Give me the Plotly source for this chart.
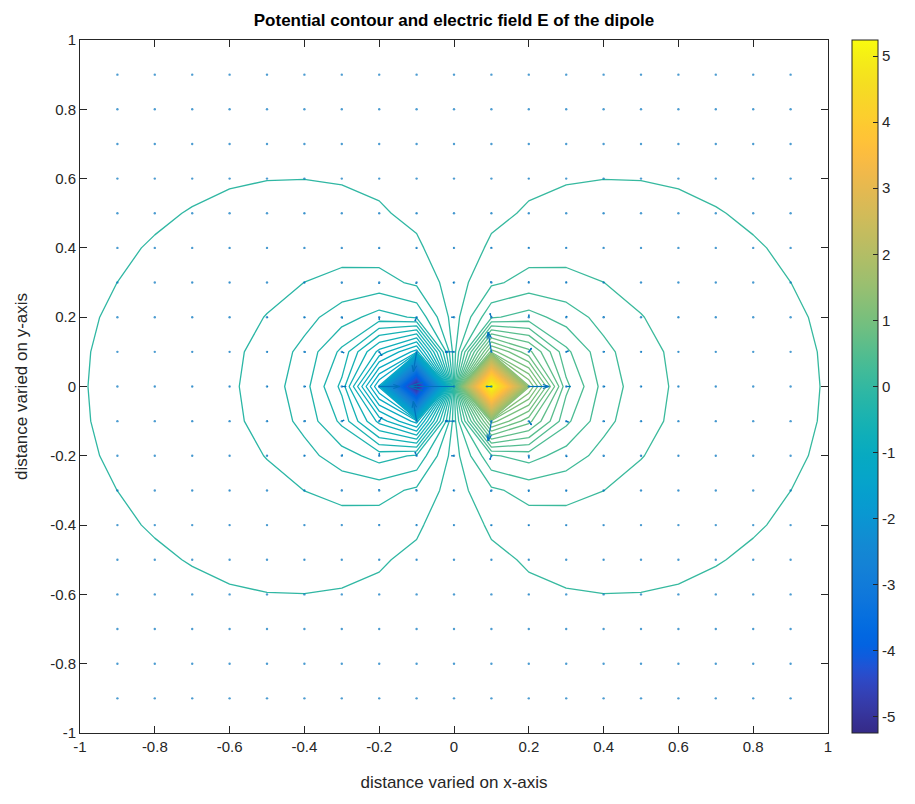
import numpy as np
import plotly.graph_objects as go
import plotly.figure_factory as ff

# ---------------- data ----------------
x_vals = [-1.0, -0.9, -0.8, -0.7, -0.6, -0.5, -0.4, -0.3, -0.2, -0.1, 0.0,
          0.1, 0.2, 0.3, 0.4, 0.5, 0.6, 0.7, 0.8, 0.9, 1.0]
y_vals = [-1.0, -0.9, -0.8, -0.7, -0.6, -0.5, -0.4, -0.3, -0.2, -0.1, 0.0,
          0.1, 0.2, 0.3, 0.4, 0.5, 0.6, 0.7, 0.8, 0.9, 1.0]
charge_x = [0.1, -0.1]
charge_y = [0.0, 0.0]
charge_q = [1.0, -1.0]
k_scale = 0.2045         # potential scale (max ~5.25)
core_r2 = 0.00107        # core softening so the value at the charge is finite
n_levels = 120
x_ticks = [-1, -0.8, -0.6, -0.4, -0.2, 0, 0.2, 0.4, 0.6, 0.8, 1]
y_ticks = [-1, -0.8, -0.6, -0.4, -0.2, 0, 0.2, 0.4, 0.6, 0.8, 1]
cb_ticks = [-5, -4, -3, -2, -1, 0, 1, 2, 3, 4, 5]

parula = [
    [0.2081, 0.1663, 0.5292], [0.2116, 0.1898, 0.5777], [0.2123, 0.2138, 0.6270],
    [0.2081, 0.2386, 0.6771], [0.1959, 0.2645, 0.7279], [0.1707, 0.2919, 0.7792],
    [0.1253, 0.3242, 0.8303], [0.0591, 0.3598, 0.8683], [0.0117, 0.3875, 0.8820],
    [0.0060, 0.4086, 0.8828], [0.0165, 0.4266, 0.8786], [0.0329, 0.4430, 0.8720],
    [0.0498, 0.4586, 0.8641], [0.0629, 0.4737, 0.8554], [0.0723, 0.4887, 0.8467],
    [0.0779, 0.5040, 0.8384], [0.0793, 0.5200, 0.8312], [0.0749, 0.5375, 0.8263],
    [0.0641, 0.5570, 0.8240], [0.0488, 0.5772, 0.8228], [0.0343, 0.5966, 0.8199],
    [0.0265, 0.6137, 0.8135], [0.0239, 0.6287, 0.8038], [0.0231, 0.6418, 0.7913],
    [0.0228, 0.6535, 0.7768], [0.0267, 0.6642, 0.7607], [0.0384, 0.6743, 0.7436],
    [0.0590, 0.6838, 0.7254], [0.0843, 0.6928, 0.7062], [0.1133, 0.7015, 0.6859],
    [0.1453, 0.7098, 0.6646], [0.1801, 0.7177, 0.6424], [0.2178, 0.7250, 0.6193],
    [0.2586, 0.7317, 0.5954], [0.3022, 0.7376, 0.5712], [0.3482, 0.7424, 0.5473],
    [0.3953, 0.7459, 0.5244], [0.4420, 0.7481, 0.5033], [0.4871, 0.7491, 0.4840],
    [0.5300, 0.7491, 0.4661], [0.5709, 0.7485, 0.4494], [0.6099, 0.7473, 0.4337],
    [0.6473, 0.7456, 0.4188], [0.6834, 0.7435, 0.4044], [0.7184, 0.7411, 0.3905],
    [0.7525, 0.7384, 0.3768], [0.7858, 0.7356, 0.3633], [0.8185, 0.7327, 0.3498],
    [0.8507, 0.7299, 0.3360], [0.8824, 0.7274, 0.3217], [0.9139, 0.7258, 0.3063],
    [0.9450, 0.7261, 0.2886], [0.9739, 0.7314, 0.2666], [0.9938, 0.7455, 0.2403],
    [0.9990, 0.7653, 0.2164], [0.9955, 0.7861, 0.1967], [0.9880, 0.8066, 0.1794],
    [0.9789, 0.8271, 0.1633], [0.9697, 0.8481, 0.1475], [0.9626, 0.8705, 0.1309],
    [0.9589, 0.8949, 0.1132], [0.9598, 0.9218, 0.0948], [0.9661, 0.9514, 0.0755],
    [0.9763, 0.9831, 0.0538]]

# ---------------- field ----------------
X, Y = np.meshgrid(np.array(x_vals), np.array(y_vals))
V = np.zeros_like(X)
for cx, cy, q in zip(charge_x, charge_y, charge_q):
    V += k_scale * q / np.sqrt((X - cx) ** 2 + (Y - cy) ** 2 + core_r2)

vmin, vmax = V.min(), V.max()
step = (vmax - vmin) / (n_levels + 1)

dV_dy, dV_dx = np.gradient(V, 0.1, 0.1)
U = -dV_dx
W = -dV_dy
# MATLAB-style quiver autoscale
n = np.sqrt(X.size)
delx = (X.max() - X.min()) / n
dely = (Y.max() - Y.min()) / n
lens = np.sqrt((U ** 2 + W ** 2) / (delx ** 2 + dely ** 2))
scale = 0.9 / lens.max()

colorscale = [[i / (len(parula) - 1),
               'rgb(%d,%d,%d)' % tuple(int(round(c * 255)) for c in rgb)]
              for i, rgb in enumerate(parula)]

def fmt(v):
    return '%g' % v

FONT = 'Liberation Sans, Arial, sans-serif'
fig = go.Figure()
fig.add_trace(go.Contour(
    x=x_vals, y=y_vals, z=V,
    colorscale=colorscale, zmin=vmin, zmax=vmax,
    contours=dict(coloring='lines', start=vmin + step, end=vmax - step * 0.5,
                  size=step),
    line=dict(width=1.3, smoothing=0),
    hoverinfo='skip', showscale=False))

qfig = ff.create_quiver(X.flatten(), Y.flatten(), U.flatten(), W.flatten(),
                        scale=scale, arrow_scale=0.33, angle=np.arctan(0.33),
                        line=dict(color='#0072BD', width=1.2))
for tr in qfig.data:
    tr.showlegend = False
    tr.hoverinfo = 'skip'
    fig.add_trace(tr)

# arrow tails (the shortest arrows render as dots)
inside = (np.abs(X) < 0.99) & (np.abs(Y) < 0.99)
fig.add_trace(go.Scatter(x=X[inside], y=Y[inside], mode='markers',
                         marker=dict(size=2.4, color='#0072BD', opacity=0.7,
                                     line=dict(width=0)),
                         hoverinfo='skip', showlegend=False))

# continuous colour bar
fig.add_trace(go.Scatter(
    x=[0], y=[0], mode='markers', hoverinfo='skip', showlegend=False,
    marker=dict(size=0, opacity=0, color=[vmin], colorscale=colorscale,
                cmin=vmin, cmax=vmax, showscale=True,
                colorbar=dict(thickness=26, len=1, lenmode='fraction', y=0.5,
                              yanchor='middle', x=1.032, xanchor='left', xpad=0, ypad=0,
                              outlinewidth=1, outlinecolor='#262626',
                              ticks='inside', ticklen=5, tickcolor='#262626',
                              tickvals=cb_ticks, ticktext=[fmt(t) for t in cb_ticks],
                              tickfont=dict(family=FONT, size=15, color='#262626')))))

axis_common = dict(range=[-1, 1], ticks='inside', ticklen=7, tickcolor='#262626',
                   showline=True, linecolor='#262626', linewidth=1, mirror='allticks',
                   showgrid=False, zeroline=False, automargin=False,
                   tickfont=dict(family=FONT, size=15, color='#262626'))
W_FIG, H_FIG = 907, 796
fig.update_layout(
    width=W_FIG, height=H_FIG,
    margin=dict(l=72, r=87, t=32, b=71),
    plot_bgcolor='white', paper_bgcolor='white', showlegend=False,
    font=dict(family=FONT, color='#262626'),
    title=dict(text='<b>Potential contour and electric field E of the dipole</b>',
               x=0.5, xref='paper', xanchor='center', y=1 - 12 / H_FIG, yref='container',
               yanchor='middle', font=dict(size=17, color='black')),
    xaxis=dict(axis_common, tickvals=x_ticks, ticktext=[fmt(t) for t in x_ticks],
               title=dict(text='distance varied on x-axis', font=dict(size=17), standoff=22)),
    yaxis=dict(axis_common, tickvals=y_ticks, ticktext=[fmt(t) for t in y_ticks],
               title=dict(text='distance varied on y-axis', font=dict(size=17), standoff=18)),
)
fig.write_html('out.html')
